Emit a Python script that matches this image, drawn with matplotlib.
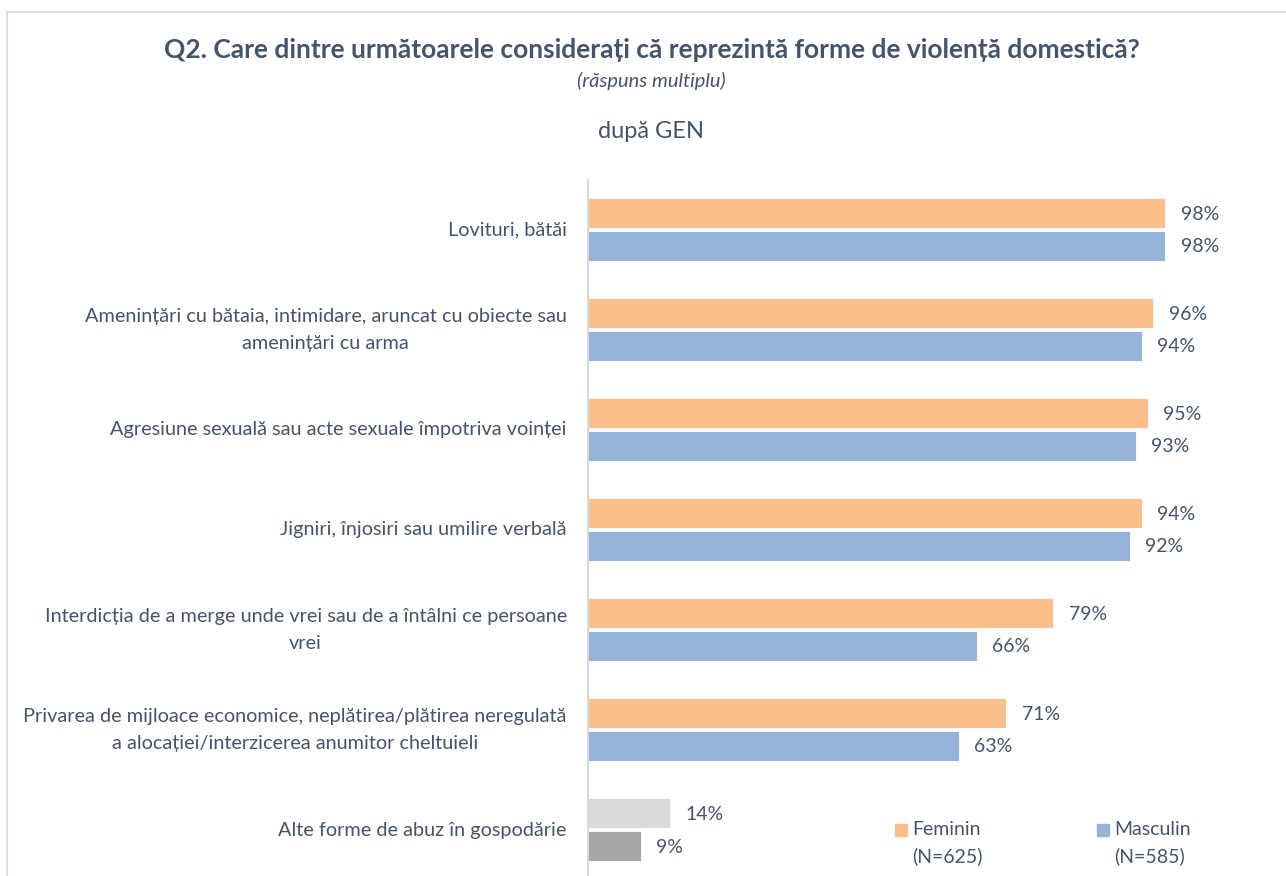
import matplotlib
matplotlib.use('Agg')
import matplotlib.pyplot as plt
from matplotlib.patches import Rectangle
import numpy as np

plt.rcParams['font.family'] = ['Lato', 'DejaVu Sans']

categories = ['Lovituri, bătăi',
              'Amenințări cu bătaia, intimidare, aruncat cu obiecte sau\namenințări cu arma',
              'Agresiune sexuală sau acte sexuale împotriva voinței',
              'Jigniri, înjosiri sau umilire verbală',
              'Interdicția de a merge unde vrei sau de a întâlni ce persoane\nvrei',
              'Privarea de mijloace economice, neplătirea/plătirea neregulată\na alocației/interzicerea anumitor cheltuieli',
              'Alte forme de abuz în gospodărie']
feminin = [98, 96, 95, 94, 79, 71, 14]
masculin = [98, 94, 93, 92, 66, 63, 9]
legend_labels = ['Feminin\n(N=625)', 'Masculin\n(N=585)']

txt = '#44546A'
c_fem = ['#F9C08D'] * 6 + ['#D9D9D9']
c_mas = ['#95B3D7'] * 6 + ['#A6A6A6']

fig = plt.figure(figsize=(12.86, 8.76), dpi=100)

# chart border (cropped at right/bottom)
fig.patches.append(Rectangle((7/1286, -0.01), 1.02, 1 - 12/876 + 0.01, transform=fig.transFigure,
                             fill=False, edgecolor='#D9DEE5', linewidth=1.5))

ax = fig.add_axes([588/1286, 0, (1177-588)/1286, 1 - 180/876])
y = np.arange(len(categories))
h = 0.305
off = 0.165
ax.barh(y - off, feminin, height=h, color=c_fem, edgecolor='white', linewidth=0.6)
ax.barh(y + off, masculin, height=h, color=c_mas, edgecolor='white', linewidth=0.6)

for i in range(len(categories)):
    ax.text(feminin[i] + 2.6, y[i] - off + 0.02, f'{feminin[i]}%', va='center', ha='left',
            fontsize=14, color=txt)
    ax.text(masculin[i] + 2.6, y[i] + off + 0.01, f'{masculin[i]}%', va='center', ha='left',
            fontsize=14, color=txt)
    ax.text(-3.6, y[i] + 0.005, categories[i], va='center', ha='right', multialignment='center',
            fontsize=14.3, color=txt, linespacing=1.75)

ax.set_xlim(0, 100)
ax.set_ylim(6.465, -0.495)
ax.set_xticks([])
ax.set_yticks([])
for s in ['top', 'right', 'bottom']:
    ax.spines[s].set_visible(False)
ax.spines['left'].set_color('#D9D9D9')
ax.spines['left'].set_linewidth(1.5)

fig.text(652/1286, 1 - 50/876, 'Q2. Care dintre următoarele considerați că reprezintă forme de violență domestică?',
         ha='center', va='center', fontsize=19, fontweight='bold', color=txt)
fig.text(651/1286, 1 - 81/876, '(răspuns multiplu)', ha='center', va='center',
         fontsize=14.5, style='italic', color=txt)
fig.text(651/1286, 1 - 131/876, 'după GEN', ha='center', va='center', fontsize=17, color=txt)

# legend
for lx, col, lab in [(895, '#F9C08D', legend_labels[0]), (1097, '#95B3D7', legend_labels[1])]:
    fig.patches.append(Rectangle((lx/1286, 1 - 836/876), 12/1286, 12/876,
                                 transform=fig.transFigure, color=col))
    fig.text((lx + 17)/1286, 1 - 821/876, lab, ha='left', va='top', fontsize=14,
             color=txt, linespacing=1.6)

fig.savefig('out.png', dpi=100)
